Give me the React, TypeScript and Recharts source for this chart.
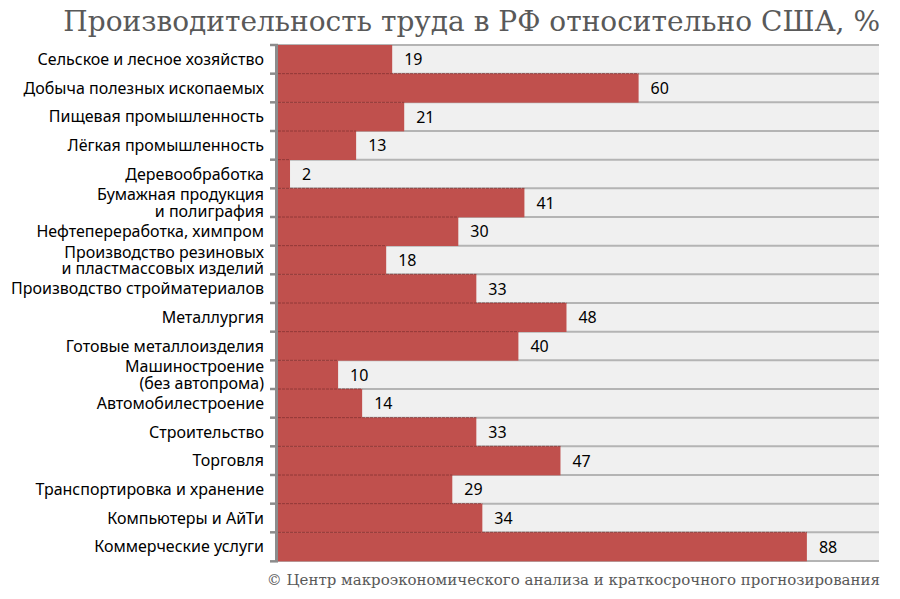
import React from "react";
import { BarChart, Bar, XAxis, YAxis, CartesianGrid, LabelList } from "recharts";

// Отрасли (сверху вниз) и производительность труда в РФ, % от уровня США
const industries: string[][] = [
  ["Сельское и лесное хозяйство"],
  ["Добыча полезных ископаемых"],
  ["Пищевая промышленность"],
  ["Лёгкая промышленность"],
  ["Деревообработка"],
  ["Бумажная продукция", "и полиграфия"],
  ["Нефтепереработка, химпром"],
  ["Производство резиновых", "и пластмассовых изделий"],
  ["Производство стройматериалов"],
  ["Металлургия"],
  ["Готовые металлоизделия"],
  ["Машиностроение", "(без автопрома)"],
  ["Автомобилестроение"],
  ["Строительство"],
  ["Торговля"],
  ["Транспортировка и хранение"],
  ["Компьютеры и АйТи"],
  ["Коммерческие услуги"],
];

const productivity: number[] = [19, 60, 21, 13, 2, 41, 30, 18, 33, 48, 40, 10, 14, 33, 47, 29, 34, 88];

const xDomain: [number, number] = [0, 100];

const titleText = "Производительность труда в РФ относительно США, %";
const sourceText = "© Центр макроэкономического анализа и краткосрочного прогнозирования";

const data = industries.map((lines, i) => ({
  name: lines.join("\n"),
  value: productivity[i],
}));

const W = 900;
const H = 599;
const margin = { top: 45, right: 21, bottom: 38, left: 0 };
const yAxisWidth = 278;

const labelFont = "'Noto Sans', 'Open Sans', sans-serif";

const CategoryTick = (props: any) => {
  const { x, y, payload } = props;
  const lines: string[] = String(payload.value).split("\n");
  const lh = 16.5;
  const start = -((lines.length - 1) * lh) / 2;
  return (
    <text
      x={x}
      y={y}
      textAnchor="end"
      fontSize={16}
      fontFamily={labelFont}
      fill="#000"
    >
      {lines.map((l, i) => (
        <tspan key={i} x={x} y={y + start + i * lh} dy="0.36em">
          {l}
        </tspan>
      ))}
    </text>
  );
};

// Bar body plus the row separator drawn across it and the axis tick marks
const BarShape = (props: any) => {
  const { x, y, width, height, index } = props;
  const last = index === data.length - 1;
  return (
    <g>
      <rect x={x} y={y} width={Math.max(width, 0)} height={height} fill="#C0504D" />
      {index > 0 && (
        <line
          x1={x}
          x2={x + width}
          y1={y}
          y2={y}
          stroke="#7E2F2D"
          strokeOpacity={0.7}
          strokeWidth={1}
          strokeDasharray="3 1"
        />
      )}
      <line x1={x - 8} x2={x} y1={y} y2={y} stroke="#8C8C8C" strokeWidth={2.5} />
      {last && (
        <line x1={x - 8} x2={x} y1={y + height} y2={y + height} stroke="#8C8C8C" strokeWidth={2.5} />
      )}
      <line x1={x - 1.5} x2={x - 1.5} y1={y} y2={y + height} stroke="#8C8C8C" strokeWidth={3} />
    </g>
  );
};

export default function App() {
  return (
    <div style={{ position: "absolute", left: 0, top: 0, width: W, height: H, background: "#fff" }}>
      <div
        style={{
          position: "absolute",
          right: 20,
          top: 2,
          fontFamily: "'DejaVu Serif', serif",
          fontSize: 28,
          color: "#595959",
          whiteSpace: "nowrap",
          lineHeight: "40px",
        }}
      >
        {titleText}
      </div>
      <BarChart
        width={W}
        height={H}
        data={data}
        layout="vertical"
        margin={margin}
        barCategoryGap={0}
      >
        <CartesianGrid
          vertical={false}
          fill="#F0F0F0"
          stroke="#B4B4B4"
          strokeWidth={2}
          horizontalCoordinatesGenerator={({ offset }: any) =>
            data.map((_, i) => offset.top + (i * offset.height) / data.length).concat(offset.top + offset.height)
          }
        />
        <XAxis type="number" domain={xDomain} hide />
        <YAxis
          type="category"
          dataKey="name"
          width={yAxisWidth}
          axisLine={false}
          tickLine={false}
          interval={0}
          tick={<CategoryTick />}
          tickMargin={8}
        />
        <Bar dataKey="value" shape={<BarShape />} isAnimationActive={false}>
          <LabelList
            dataKey="value"
            position="right"
            offset={12}
            fontSize={16}
            fontFamily={labelFont}
            fill="#000"
          />
        </Bar>
      </BarChart>
      <div
        style={{
          position: "absolute",
          right: 20,
          top: 569,
          fontFamily: "'DejaVu Serif', serif",
          fontSize: 15,
          color: "#595959",
          whiteSpace: "nowrap",
          lineHeight: "22px",
        }}
      >
        {sourceText}
      </div>
    </div>
  );
}
